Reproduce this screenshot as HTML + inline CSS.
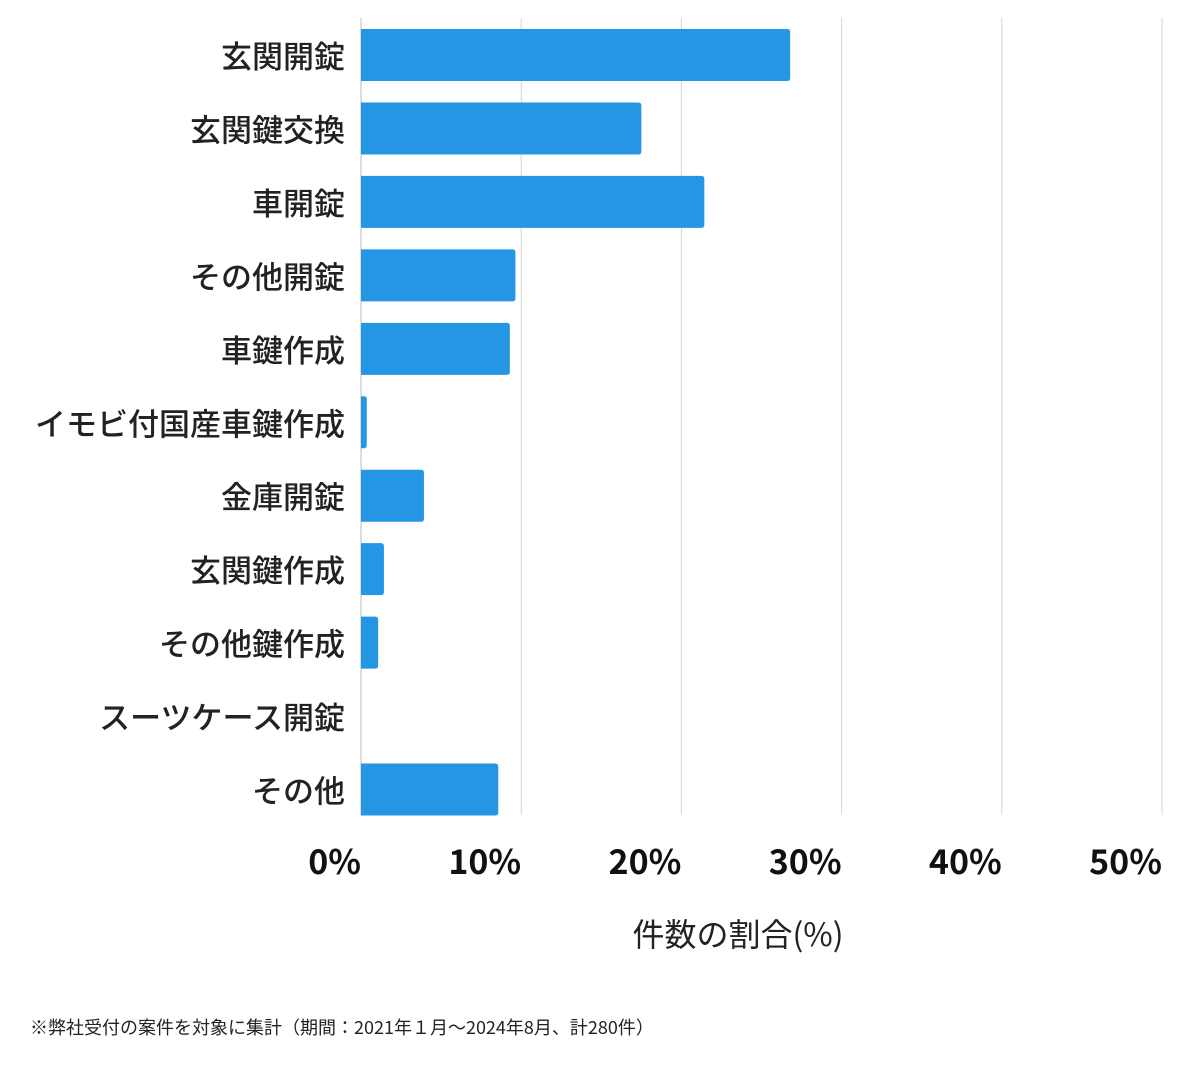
<!DOCTYPE html>
<html><head><meta charset="utf-8"><style>
html,body{margin:0;padding:0;background:#fff;}
svg text{font-family:"Noto Sans CJK JP","Liberation Sans",sans-serif;}
</style></head><body>
<svg id="chart" width="1200" height="1069" viewBox="0 0 1200 1069" xmlns="http://www.w3.org/2000/svg">
<g id="grid"></g>
<g id="bars"></g>
<g id="ylabels"></g>
<g id="xlabels"></g>
<text x="738" y="946" font-size="32" text-anchor="middle" fill="#222">件数の割合(%)</text>
<text x="30" y="1034" font-size="18" fill="#222">※弊社受付の案件を対象に集計（期間：2021年１月〜2024年8月、計280件）</text>
</svg>
<script>
const categories=["玄関開錠","玄関鍵交換","車開錠","その他開錠","車鍵作成","イモビ付国産車鍵作成","金庫開錠","玄関鍵作成","その他鍵作成","スーツケース開錠","その他"];
const values=[26.79,17.5,21.43,9.64,9.29,0.36,3.93,1.43,1.07,0,8.57];
const ticks=[0,10,20,30,40,50];
const tickLabels=["0%","10%","20%","30%","40%","50%"];
const NS="http://www.w3.org/2000/svg";
const x0=361,x1=1162,xmax=50,yTop=18,yBot=815,rowTop=18.3,pitch=73.45,barH=52;
const xs=v=>x0+(x1-x0)*v/xmax;
const yc=i=>rowTop+pitch*i+pitch/2;
function mk(t,a){const e=document.createElementNS(NS,t);for(const k in a)e.setAttribute(k,a[k]);return e;}
const grid=document.getElementById('grid'),bars=document.getElementById('bars'),yl=document.getElementById('ylabels'),xl=document.getElementById('xlabels');
ticks.forEach((t,i)=>{
  const l=mk('line',{x1:xs(t),x2:xs(t),y1:yTop,y2:yBot,stroke:i===0?'#bbb':'#d6d6d6','stroke-width':1});
  
  
  grid.appendChild(l);
  const tx=mk('text',{x:xs(t),y:874,'font-size':34,'font-weight':'bold','text-anchor':'end',fill:'#111'});
  tx.textContent=tickLabels[i];
  
  
  xl.appendChild(tx);
});
categories.forEach((c,i)=>{
  const w=xs(values[i])-x0;
  if(w>0){
    const r=Math.min(3,w/2);
    const y=yc(i)-barH/2;
    const p=mk('path',{d:`M${x0},${y} H${x0+w-r} Q${x0+w},${y} ${x0+w},${y+r} V${y+barH-r} Q${x0+w},${y+barH} ${x0+w-r},${y+barH} H${x0} Z`,fill:'#2596e4'});
    
    
    bars.appendChild(p);
  }
  const t=mk('text',{x:345,y:yc(i)+13,'font-size':31,'font-weight':'500','text-anchor':'end',fill:'#222'});
  t.textContent=c;
  
  
  yl.appendChild(t);
});
</script>
</body></html>
